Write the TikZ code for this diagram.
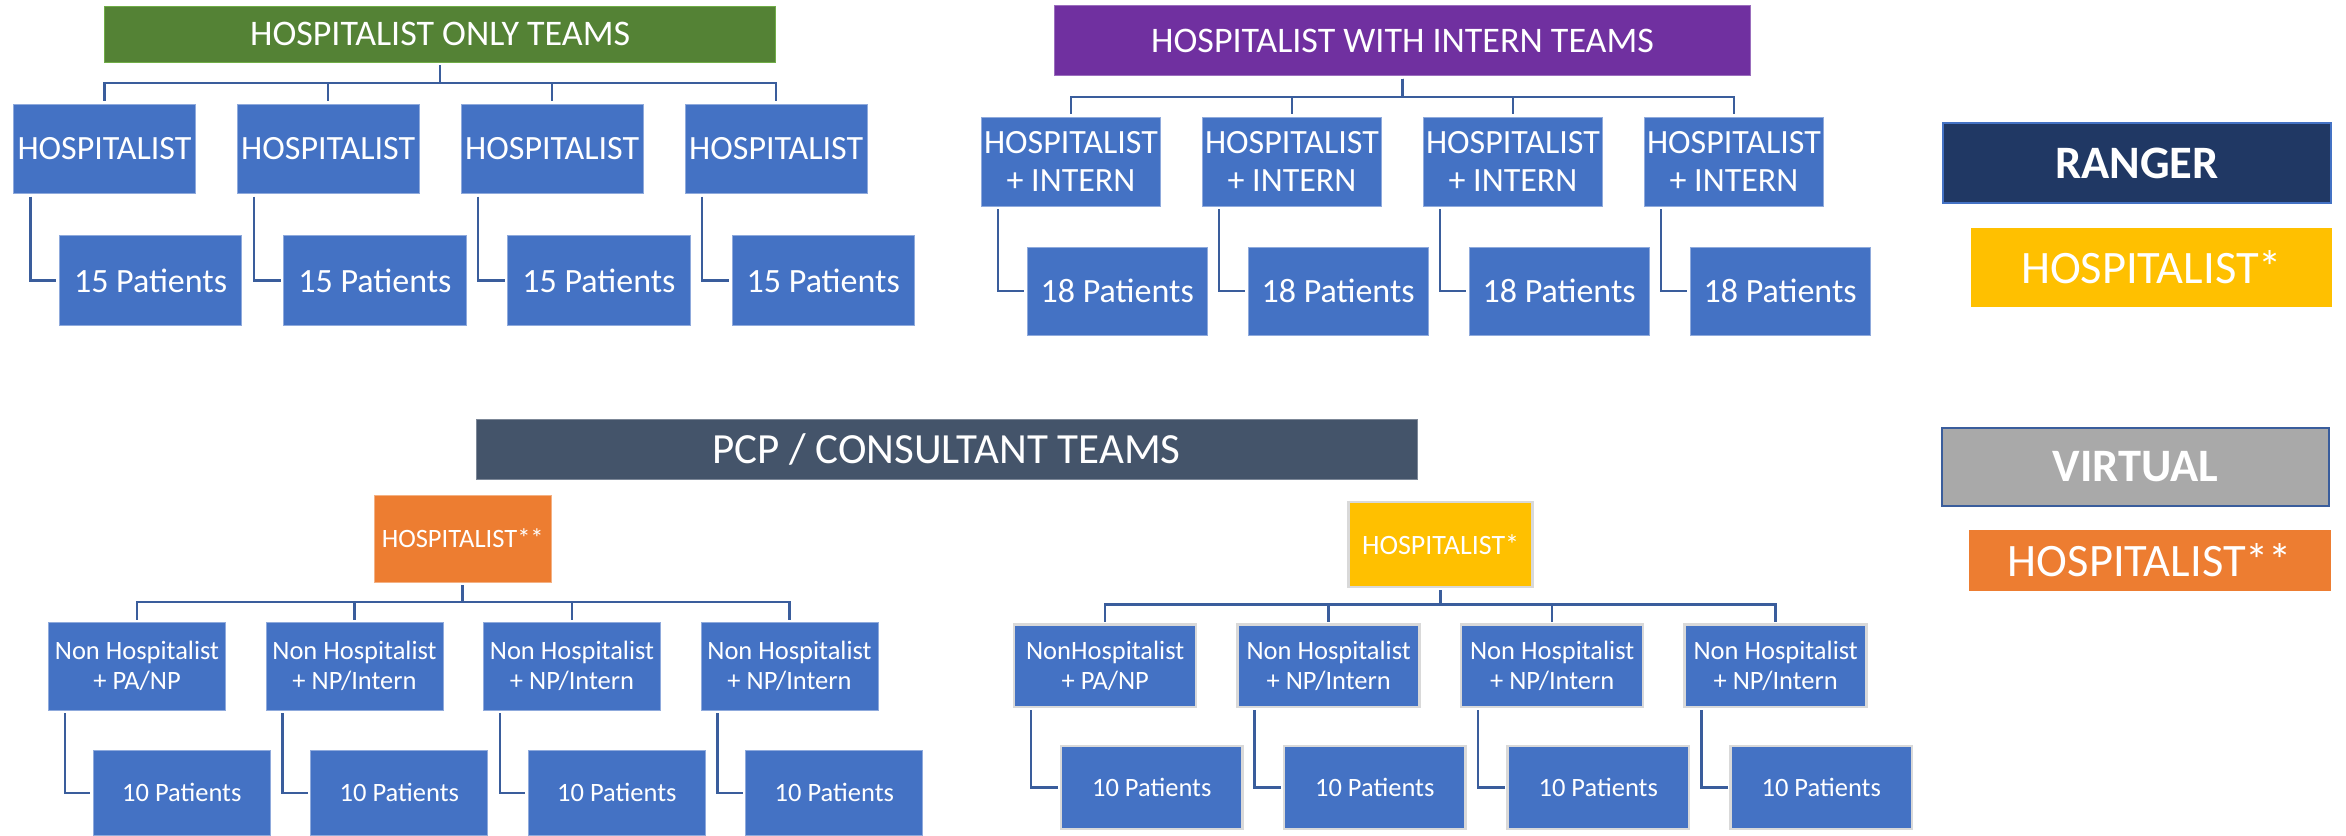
\documentclass[tikz,border=0pt]{standalone}
\usepackage{fontspec}
\setmainfont{Carlito}
\definecolor{cblue}{HTML}{4472C4}
\definecolor{cblueedge}{HTML}{8FAADC}
\definecolor{cconn}{HTML}{3A5D9C}
\definecolor{cgreen}{HTML}{548235}
\definecolor{cgreenedge}{HTML}{70AD47}
\definecolor{cpurple}{HTML}{7030A0}
\definecolor{cnavy}{HTML}{203864}
\definecolor{cyellow}{HTML}{FFC000}
\definecolor{cgray}{HTML}{A9A9A9}
\definecolor{corange}{HTML}{ED7D31}
\definecolor{corangeedge}{HTML}{F4B183}
\definecolor{cslate}{HTML}{44546A}
\definecolor{cgrayedge}{HTML}{D9D9D9}
\newcommand{\myfontT}{\fontsize{36bp}{40bp}\selectfont}
\newcommand{\myfontL}{\fontsize{34bp}{38bp}\selectfont}
\newcommand{\myfontP}{\fontsize{43bp}{48bp}\selectfont}
\newcommand{\myfontS}{\fontsize{26.5bp}{30bp}\selectfont}
\newcommand{\myfontY}{\fontsize{28bp}{32bp}\selectfont}
\newcommand{\myfontG}{\fontsize{46.5bp}{52bp}\selectfont}
\begin{document}
\begin{tikzpicture}[x=1bp,y=-1bp,
  box/.style={anchor=north west, inner sep=0pt, outer sep=0pt, align=center, text=white},
  bluebox/.style={box, fill=cblue, draw=cblueedge, line width=0.8bp},
  rbox/.style={box, fill=cblue, draw=cgrayedge, line width=2.5bp},
  conn/.style={draw=cconn, line width=2.5bp, shorten <=3bp, shorten >=3bp},
  topbox/.style={bluebox, minimum width=182.3bp, minimum height=89.4bp, font=\myfontL},
  intbox/.style={bluebox, minimum width=179.5bp, minimum height=89bp, font=\myfontL},
  intpat/.style={bluebox, minimum width=180bp, minimum height=88bp, font=\myfontL},
  lbox/.style={bluebox, minimum width=177bp, minimum height=87.3bp, font=\myfontS},
  lpat/.style={bluebox, minimum width=177bp, minimum height=84.3bp, font=\myfontS},
  rlev/.style={rbox, minimum width=182bp, minimum height=82.6bp, font=\myfontS},
  rpat/.style={rbox, minimum width=181.5bp, minimum height=82.6bp, font=\myfontS},
  legend/.style={box, font=\myfontG}]
\path[fill=white, use as bounding box] (0,0) rectangle (2346,835);

% ---------- Hospitalist only teams ----------
\node[box, fill=cgreen, draw=cgreenedge, line width=1bp, minimum width=671bp, minimum height=56bp, font=\myfontT] (tA) at (104.6,6) {HOSPITALIST ONLY TEAMS};
\node[topbox] (a1) at (13.3,104.3) {HOSPITALIST};
\node[topbox] (a2) at (237,104.3) {HOSPITALIST};
\node[topbox] (a3) at (461,104.3) {HOSPITALIST};
\node[topbox] (a4) at (685,104.3) {HOSPITALIST};
\node[topbox, minimum width=182.5bp, minimum height=89.6bp] (pa1) at (59.3,235.7) {15 Patients};
\node[topbox, minimum width=182.5bp, minimum height=89.6bp] (pa2) at (283.7,235.7) {15 Patients};
\node[topbox, minimum width=182.5bp, minimum height=89.6bp] (pa3) at (507.7,235.7) {15 Patients};
\node[topbox, minimum width=182.5bp, minimum height=89.6bp] (pa4) at (732,235.7) {15 Patients};
\foreach \c in {a1,a2,a3,a4} \draw[conn] (tA.south) -- ++(0,21) -| (\c.north);
\foreach \i in {1,...,4} \draw[conn] ([xshift=17bp]a\i.south west) |- (pa\i.west);

% ---------- Hospitalist with intern teams ----------
\node[box, fill=cpurple, draw=cpurple!70, line width=1bp, minimum width=695.7bp, minimum height=70bp, font=\myfontT] (tB) at (1054.7,5.7) {HOSPITALIST WITH INTERN TEAMS};
\node[intbox] (b1) at (981.2,117) {HOSPITALIST\\+ INTERN};
\node[intbox] (b2) at (1202.2,117) {HOSPITALIST\\+ INTERN};
\node[intbox] (b3) at (1423.2,117) {HOSPITALIST\\+ INTERN};
\node[intbox] (b4) at (1644.2,117) {HOSPITALIST\\+ INTERN};
\node[intpat] (pb1) at (1027.2,247) {18 Patients};
\node[intpat] (pb2) at (1248.1,247) {18 Patients};
\node[intpat] (pb3) at (1469.1,247) {18 Patients};
\node[intpat] (pb4) at (1690.1,247) {18 Patients};
\foreach \c in {b1,b2,b3,b4} \draw[conn] (tB.south) -- ++(0,21.3) -| (\c.north);
\foreach \i in {1,...,4} \draw[conn] ([xshift=17bp]b\i.south west) |- (pb\i.west);

% ---------- Legend ----------
\node[legend, fill=cnavy, draw=cblue, line width=2bp, minimum width=388bp, minimum height=80bp, font=\myfontG\bfseries] (lg1) at (1943,123) {RANGER};
\node[legend, fill=cyellow, minimum width=361bp, minimum height=79bp] (lg2) at (1971,228) {HOSPITALIST*};
\node[legend, fill=cgray, draw=cconn, line width=2.5bp, minimum width=387bp, minimum height=78bp, font=\myfontG\bfseries] (lg3) at (1942,428) {VIRTUAL};
\node[legend, fill=corange, minimum width=362bp, minimum height=61bp] (lg4) at (1969,530) {HOSPITALIST**};

% ---------- PCP / consultant teams ----------
\node[box, fill=cslate, draw=cslate!70, line width=1bp, minimum width=941bp, minimum height=60bp, font=\myfontP] (tC) at (476,419) {PCP / CONSULTANT TEAMS};

% left subtree
\node[box, fill=corange, draw=corangeedge, line width=0.8bp, minimum width=176.4bp, minimum height=87.3bp, font=\myfontS] (hC) at (374.5,495) {HOSPITALIST**};
\node[lbox] (c1) at (48.5,622.7) {Non Hospitalist\\+ PA/NP};
\node[lbox] (c2) at (266,622.7) {Non Hospitalist\\+ NP/Intern};
\node[lbox] (c3) at (483.5,622.7) {Non Hospitalist\\+ NP/Intern};
\node[lbox] (c4) at (701,622.7) {Non Hospitalist\\+ NP/Intern};
\node[lpat] (pc1) at (93.3,750.7) {10 Patients};
\node[lpat] (pc2) at (310.8,750.7) {10 Patients};
\node[lpat] (pc3) at (528.3,750.7) {10 Patients};
\node[lpat] (pc4) at (745.8,750.7) {10 Patients};
\foreach \c in {c1,c2,c3,c4} \draw[conn] (hC.south) -- ++(0,19.7) -| (\c.north);
\foreach \i in {1,...,4} \draw[conn] ([xshift=16.5bp]c\i.south west) |- (pc\i.west);

% right subtree
\node[box, fill=cyellow, draw=cgrayedge, line width=2.5bp, minimum width=184.2bp, minimum height=84.8bp, font=\myfontY] (hD) at (1348.5,502.2) {HOSPITALIST*};
\node[rlev] (d1) at (1014.2,624.5) {NonHospitalist\\+ PA/NP};
\node[rlev] (d2) at (1237.7,624.5) {Non Hospitalist\\+ NP/Intern};
\node[rlev] (d3) at (1461.2,624.5) {Non Hospitalist\\+ NP/Intern};
\node[rlev] (d4) at (1684.7,624.5) {Non Hospitalist\\+ NP/Intern};
\node[rpat] (pd1) at (1061,746.2) {10 Patients};
\node[rpat] (pd2) at (1284,746.2) {10 Patients};
\node[rpat] (pd3) at (1507.5,746.2) {10 Patients};
\node[rpat] (pd4) at (1730.5,746.2) {10 Patients};
\foreach \c in {d1,d2,d3,d4} \draw[conn] (hD.south) -- ++(0,17.5) -| (\c.north);
\foreach \i in {1,...,4} \draw[conn] ([xshift=16.8bp]d\i.south west) |- (pd\i.west);
\end{tikzpicture}
\end{document}
